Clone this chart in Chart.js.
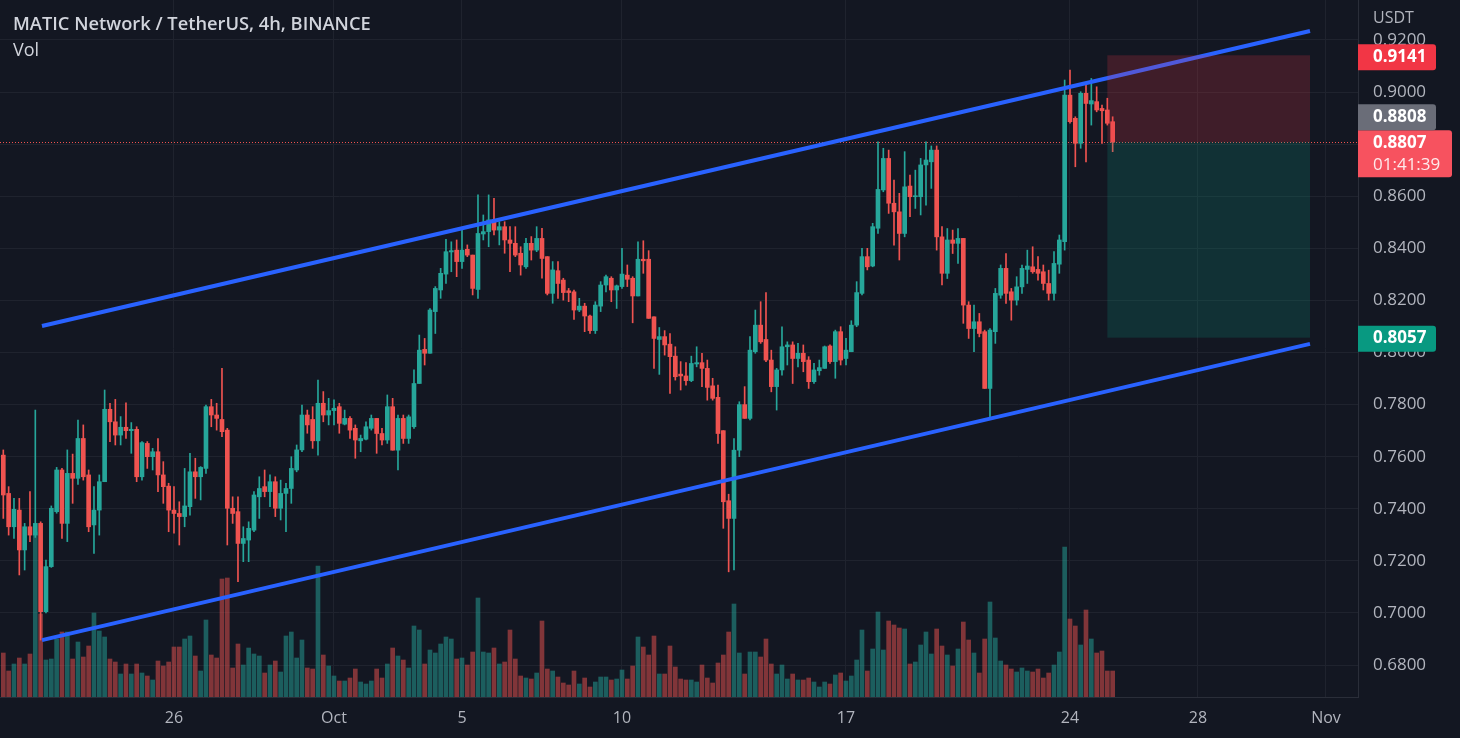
<!DOCTYPE html>
<html>
<head>
<meta charset="utf-8">
<title>MATIC Network / TetherUS, 4h</title>
<script src="https://cdn.jsdelivr.net/npm/chart.js@4.4.1/dist/chart.umd.min.js"></script>
<style>
  html, body { margin: 0; padding: 0; background: #131722; overflow: hidden; }
  #wrap { position: relative; width: 1460px; height: 738px; }
</style>
</head>
<body>
<div id="wrap"><canvas id="mychart" width="1460" height="738"></canvas></div>
<script>
// 4h candles, first bar = Sep 20 16:00, one index per bar
const opens = [
  .7606,.7459,.7331,.7395,.7242,.7331,.7299,.7344,.7005,.7178,
  .7389,.7549,.7344,.7536,.7517,.7670,.7530,.7338,.7395,.7504,
  .7782,.7734,.7683,.7713,.7700,.7705,.7523,.7651,.7600,.7619,
  .7530,.7487,.7395,.7382,.7370,.7408,.7542,.7523,.7555,.7792,
  .7760,.7743,.7702,.7402,.7389,.7267,.7280,.7318,.7446,.7485,
  .7466,.7504,.7402,.7459,.7478,.7549,.7626,.7760,.7743,.7661,
  .7805,.7760,.7777,.7792,.7725,.7747,.7709,.7661,.7667,.7709,
  .7747,.7689,.7664,.7792,.7625,.7747,.7670,.7715,.7881,.8012,
  .7997,.8157,.8240,.8301,.8386,.8393,.8349,.8396,.8374,.8242,
  .8455,.8464,.8509,.8470,.8483,.8432,.8419,.8381,.8329,.8419,
  .8393,.8438,.8368,.8227,.8314,.8278,.8237,.8233,.8163,.8178,
  .8140,.8084,.8178,.8259,.8285,.8240,.8253,.8297,.8285,.8217,
  .8358,.8358,.8137,.8050,.8061,.8032,.7986,.7917,.7910,.7892,
  .7956,.7961,.7939,.7872,.7828,.7700,.7431,.7363,.7625,.7800,
  .7747,.8003,.8105,.8050,.7971,.7869,.7933,.8022,.8029,.7977,
  .7997,.7971,.7888,.7930,.7939,.8025,.7965,.8080,.7977,.8003,
  .8105,.8227,.8368,.8332,.8477,.8624,.8745,.8573,.8540,.8457,
  .8639,.8598,.8598,.8720,.8732,.8777,.8444,.8304,.8432,.8419,
  .8438,.8182,.8092,.8118,.8080,.7862,.8080,.8220,.8323,.8233,
  .8201,.8252,.8319,.8329,.8319,.8310,.8265,.8227,.8339,.8425,
  .8988,.8899,.8803,.8995,.8954,.8963,.8937,.8931,.8886
];
const highs = [
  .7626,.7485,.7440,.7440,.7344,.7466,.7779,.7350,.7203,.7411,
  .7559,.7555,.7626,.7610,.7741,.7722,.7549,.7485,.7530,.7856,
  .7805,.7820,.7754,.7807,.7731,.7715,.7658,.7658,.7632,.7670,
  .7581,.7498,.7485,.7427,.7555,.7613,.7594,.7562,.7798,.7820,
  .7805,.7939,.7709,.7446,.7446,.7331,.7350,.7466,.7523,.7549,
  .7530,.7523,.7510,.7498,.7600,.7645,.7798,.7779,.7792,.7894,
  .7850,.7824,.7818,.7805,.7779,.7754,.7722,.7683,.7734,.7760,
  .7747,.7709,.7837,.7824,.7760,.7760,.7760,.7933,.8067,.8054,
  .8169,.8253,.8323,.8434,.8425,.8432,.8477,.8413,.8374,.8605,
  .8528,.8605,.8592,.8502,.8502,.8483,.8483,.8406,.8438,.8445,
  .8483,.8477,.8368,.8349,.8349,.8285,.8246,.8240,.8208,.8189,
  .8144,.8195,.8272,.8297,.8291,.8259,.8400,.8336,.8291,.8425,
  .8429,.8391,.8137,.8096,.8084,.8073,.8022,.7965,.7961,.7986,
  .8022,.7997,.7971,.7901,.7875,.7700,.7456,.7670,.7811,.7869,
  .8061,.8163,.8195,.8230,.8009,.7939,.8099,.8041,.8041,.8035,
  .8029,.7984,.7958,.7971,.8025,.8029,.8086,.8099,.8054,.8122,
  .8272,.8400,.8400,.8496,.8809,.8784,.8777,.8662,.8611,.8771,
  .8681,.8700,.8745,.8809,.8793,.8793,.8483,.8476,.8470,.8476,
  .8438,.8195,.8182,.8150,.8086,.8092,.8246,.8336,.8380,.8246,
  .8291,.8336,.8393,.8406,.8368,.8336,.8316,.8387,.8451,.9046,
  .9084,.8905,.9001,.9027,.9052,.9020,.8950,.8976,.8905
];
const lows = [
  .7363,.7299,.7286,.7146,.7165,.7274,.7290,.6896,.7000,.7175,
  .7383,.7286,.7274,.7421,.7494,.7510,.7312,.7229,.7299,.7504,
  .7658,.7645,.7645,.7670,.7613,.7504,.7510,.7555,.7549,.7466,
  .7421,.7312,.7306,.7261,.7331,.7376,.7440,.7434,.7536,.7715,
  .7702,.7677,.7261,.7344,.7120,.7197,.7197,.7312,.7363,.7446,
  .7408,.7370,.7357,.7312,.7421,.7542,.7619,.7690,.7632,.7606,
  .7734,.7722,.7722,.7690,.7722,.7670,.7594,.7619,.7664,.7702,
  .7613,.7645,.7651,.7625,.7549,.7651,.7651,.7709,.7881,.7952,
  .7997,.8073,.8208,.8265,.8310,.8291,.8323,.8368,.8221,.8208,
  .8432,.8406,.8451,.8413,.8381,.8310,.8368,.8297,.8323,.8355,
  .8387,.8285,.8221,.8189,.8208,.8201,.8195,.8127,.8157,.8080,
  .8073,.8073,.8157,.8233,.8195,.8169,.8246,.8253,.8114,.8217,
  .8304,.8131,.7939,.7916,.7990,.7843,.7894,.7856,.7875,.7888,
  .7945,.7869,.7817,.7817,.7651,.7325,.7158,.7165,.7600,.7747,
  .7741,.7997,.8035,.7965,.7849,.7779,.7913,.7952,.7881,.7945,
  .7926,.7862,.7881,.7913,.7939,.7958,.7901,.7952,.7952,.8003,
  .8099,.8221,.8317,.8329,.8457,.8617,.8534,.8412,.8355,.8444,
  .8521,.8553,.8528,.8566,.8630,.8393,.8259,.8284,.8380,.8342,
  .8112,.8054,.8003,.8060,.7862,.7747,.8035,.8208,.8188,.8124,
  .8182,.8227,.8265,.8304,.8278,.8240,.8201,.8201,.8304,.8393,
  .8880,.8713,.8784,.8732,.8873,.8924,.8803,.8873,.8771
];
const closes = [
  .7453,.7331,.7398,.7242,.7331,.7299,.7344,.7005,.7178,.7402,
  .7549,.7344,.7536,.7517,.7670,.7523,.7331,.7395,.7504,.7782,
  .7734,.7683,.7713,.7700,.7705,.7523,.7654,.7600,.7619,.7530,
  .7485,.7395,.7382,.7370,.7411,.7542,.7523,.7559,.7792,.7760,
  .7747,.7696,.7402,.7382,.7267,.7286,.7325,.7453,.7478,.7466,
  .7504,.7402,.7459,.7478,.7555,.7626,.7760,.7722,.7661,.7805,
  .7760,.7777,.7786,.7728,.7747,.7702,.7664,.7670,.7715,.7747,
  .7689,.7664,.7792,.7625,.7747,.7670,.7753,.7881,.8009,.7997,
  .8163,.8246,.8304,.8387,.8391,.8349,.8393,.8374,.8246,.8457,
  .8464,.8509,.8470,.8483,.8432,.8419,.8374,.8336,.8419,.8393,
  .8438,.8361,.8227,.8317,.8265,.8230,.8230,.8163,.8178,.8140,
  .8084,.8182,.8259,.8291,.8240,.8256,.8301,.8281,.8217,.8358,
  .8352,.8131,.8054,.8061,.8029,.7984,.7907,.7910,.7892,.7958,
  .7961,.7939,.7866,.7824,.7689,.7427,.7363,.7625,.7800,.7747,
  .8009,.8105,.8041,.7971,.7869,.7933,.8022,.8029,.7977,.7997,
  .7965,.7888,.7933,.7942,.8022,.7965,.8080,.7971,.8009,.8105,
  .8230,.8368,.8329,.8483,.8626,.8745,.8573,.8540,.8457,.8636,
  .8598,.8601,.8720,.8739,.8777,.8444,.8304,.8432,.8419,.8438,
  .8182,.8092,.8118,.8073,.7862,.8086,.8227,.8323,.8227,.8201,
  .8252,.8323,.8332,.8310,.8304,.8265,.8227,.8342,.8432,.8988,
  .8886,.8803,.8995,.8956,.8967,.8931,.8928,.8880,.8807
];
// volume, millions of MATIC
const volumes = [
  8.8,5.2,6.6,7.8,6.6,8.6,33,16.6,7.4,7.6,
  11.6,13,13,7.6,11,8,10.2,16.8,13.2,12,
  7.6,7,4.6,6.6,4.6,6.6,4.8,4.2,3.4,7.2,
  6.2,7,10,10,11.6,12.2,8.2,5.2,15.4,8.4,
  7.8,23.6,23.8,5.8,10.6,6.4,9.8,8.6,8.2,4.8,
  6.4,7.2,5,12.2,13,7.8,11.4,5.8,5.6,26.2,
  8.4,6.2,4.2,3.2,3.2,3.8,5.6,3,2.6,3.2,
  5.6,3.8,6.6,9.8,8.2,7.4,5.8,14.2,13.4,6.6,
  9.4,8.8,10.6,12,11.6,7.6,7.8,6.4,9,19.8,
  9,8.8,9.8,6.6,7,13.4,7.6,4.2,3.8,3.6,
  4.8,15.2,5.6,5.2,4,2.8,2.4,5.2,2.6,3.8,
  2,3,4,4,3.4,3.6,5.4,3.6,6.2,12,
  10,8.4,12.2,4.6,4.6,10.2,6,3.6,3.4,3.4,
  3,6.4,3.8,2.8,6.8,8.4,13,18.6,8.8,4.6,
  9,9,8,11.6,6.6,4.6,6.4,3.6,4.6,3.4,
  3.4,3.8,3,2,3,2.6,4.4,4.8,3.2,4.2,
  7.4,13.4,5.2,9.6,17,9.4,15.2,14.4,13.8,13.6,
  6.6,7,10.4,13,8.6,13.6,10.2,8.4,6.2,9.6,
  15,11.4,8.8,4.8,11.6,19,11.8,7.2,6.4,5.6,
  5,5.8,5.2,5,5.6,3.8,4.8,6.4,9,30,
  15.6,14.2,10.4,17.4,11.6,8.8,9.2,5.2,5.2
];

// time axis: bar index of each date label
const tickIdx = [32, 62, 86, 116, 158, 200, 224, 248];
const tickLabels = ['26', 'Oct', '5', '10', '17', '24', '28', 'Nov'];

// drawn channel (bar index / price)
const channelX = [7.25, 245];
const channelUpper = [0.8102, 0.9234];
const channelLower = [0.6896, 0.8033];

// short position tool
const positionX = [207, 245];
const stopPrice = 0.9141;
const entryPrice = 0.8808;
const targetPrice = 0.8057;
const countdown = '01:41:39';

const upColor = '#26a69a';
const downColor = '#ef5350';
const gridColor = '#1f232e';
const textColor = '#b2b5be';

Chart.defaults.font.family = '"Open Sans", sans-serif';

const bars = closes.map((c, i) => i);
const isUp = bars.map(i => closes[i] >= opens[i]);
const lastPrice = closes[closes.length - 1];

const bodyData = bars.map(i => ({x: i, y: [opens[i], closes[i]]}));
const wickData = bars.map(i => ({x: i, y: [lows[i], highs[i]]}));
const volData = bars.map(i => ({x: i, y: volumes[i]}));

const drawTag = (ctx, x, top, w, h, bg) => {
    ctx.fillStyle = bg;
    ctx.beginPath();
    ctx.roundRect(x, top, w, h, [0, 3, 3, 0]);
    ctx.fill();
};

/**
 * Extra TradingView bits: last price line, position boxes, price tags, title.
 */
const tvOverlay = {
    id: 'tvOverlay',
    beforeDatasetsDraw(chart) {
        const {ctx, chartArea, scales} = chart;
        const py = Math.round(scales.y.getPixelForValue(lastPrice)) + 0.5;
        ctx.save();
        ctx.strokeStyle = downColor;
        ctx.lineWidth = 1;
        ctx.setLineDash([1, 2]);
        ctx.beginPath();
        ctx.moveTo(chartArea.left, py);
        ctx.lineTo(chartArea.right, py);
        ctx.stroke();
        ctx.restore();
    },
    afterDatasetsDraw(chart) {
        const {ctx, scales} = chart;
        const x1 = scales.x.getPixelForValue(positionX[0]);
        const x2 = scales.x.getPixelForValue(positionX[1]);
        const yStop = scales.y.getPixelForValue(stopPrice);
        const yEntry = scales.y.getPixelForValue(entryPrice);
        const yTarget = scales.y.getPixelForValue(targetPrice);
        ctx.save();
        ctx.fillStyle = 'rgba(242, 54, 69, 0.2)';
        ctx.fillRect(x1, yStop, x2 - x1, yEntry - yStop);
        ctx.fillStyle = 'rgba(8, 153, 129, 0.2)';
        ctx.fillRect(x1, yEntry, x2 - x1, yTarget - yEntry);
        ctx.restore();
    },
    afterDraw(chart) {
        const {ctx, scales} = chart;
        const y = scales.y;
        const x0 = y.left;
        const tx = x0 + 15;
        ctx.save();
        ctx.textBaseline = 'middle';
        ctx.textAlign = 'left';

        // currency
        ctx.fillStyle = textColor;
        ctx.font = '16px "Open Sans"';
        ctx.fillText('USDT', tx, 18);

        // stop tag
        let py = y.getPixelForValue(stopPrice);
        drawTag(ctx, x0, py - 11, 78, 26, '#f23645');
        ctx.fillStyle = '#ffffff';
        ctx.font = 'bold 17px "Open Sans"';
        ctx.fillText(stopPrice.toFixed(4), tx, py + 2);

        // last price tag with countdown
        py = y.getPixelForValue(lastPrice);
        const lastTop = py - 12;
        drawTag(ctx, x0, lastTop, 94, 47, '#f7525f');
        ctx.fillStyle = '#ffffff';
        ctx.fillText(lastPrice.toFixed(4), tx, py + 1);
        ctx.font = '17px "Open Sans"';
        ctx.fillStyle = 'rgba(255,255,255,0.88)';
        ctx.fillText(countdown, tx, py + 23);

        // entry tag sits right above it
        drawTag(ctx, x0, lastTop - 26, 78, 26, '#6a6d78');
        ctx.fillStyle = '#ffffff';
        ctx.font = 'bold 17px "Open Sans"';
        ctx.fillText(entryPrice.toFixed(4), tx, lastTop - 13);

        // target tag
        py = y.getPixelForValue(targetPrice);
        drawTag(ctx, x0, py - 12, 78, 26, '#089981');
        ctx.fillStyle = '#ffffff';
        ctx.fillText(targetPrice.toFixed(4), tx, py + 1);

        // title
        ctx.fillStyle = '#d1d4dc';
        ctx.font = '600 18.3px "Open Sans"';
        ctx.fillText('MATIC Network / TetherUS, 4h, BINANCE', 13, 25);
        ctx.font = '18px "Open Sans"';
        ctx.fillText('Vol', 13, 51);
        ctx.restore();
    }
};

const ctx = document.getElementById('mychart').getContext('2d');

let mychart = new Chart(ctx, {
    type: 'bar',
    data: {
        datasets: [
            {
                type: 'line',
                data: channelX.map((x, k) => ({x: x, y: channelUpper[k]})),
                borderColor: '#2962ff',
                borderWidth: 4,
                pointRadius: 0,
                order: 1
            },
            {
                type: 'line',
                data: channelX.map((x, k) => ({x: x, y: channelLower[k]})),
                borderColor: '#2962ff',
                borderWidth: 4,
                pointRadius: 0,
                order: 1
            },
            {
                data: bodyData,
                backgroundColor: bars.map(i => isUp[i] ? upColor : downColor),
                barThickness: 4,
                minBarLength: 1,
                grouped: false,
                order: 2
            },
            {
                data: wickData,
                backgroundColor: bars.map(i => isUp[i] ? upColor : downColor),
                barThickness: 1,
                grouped: false,
                order: 3
            },
            {
                data: volData,
                yAxisID: 'yv',
                backgroundColor: bars.map(i => isUp[i] ? 'rgba(38,166,154,0.5)' : 'rgba(239,83,80,0.5)'),
                barThickness: 4,
                grouped: false,
                order: 4
            }
        ]
    },
    options: {
        responsive: false,
        animation: false,
        events: [],
        layout: { padding: 0 },
        plugins: {
            legend: { display: false },
            tooltip: { enabled: false }
        },
        scales: {
            x: {
                type: 'linear',
                min: -0.62,
                max: 254,
                offset: false,
                grid: { color: gridColor, drawTicks: false, offset: false },
                border: { color: '#2a2e39' },
                ticks: {
                    color: textColor,
                    font: { size: 16 },
                    padding: 12,
                    autoSkip: false,
                    maxRotation: 0,
                    callback: (v, idx) => tickLabels[idx]
                },
                afterBuildTicks: (s) => { s.ticks = tickIdx.map(v => ({value: v})); },
                afterFit: (s) => { s.height = 41; s.paddingLeft = 0; s.paddingRight = 0; }
            },
            y: {
                position: 'right',
                min: 0.66775,
                max: 0.93532,
                grid: { color: gridColor, drawTicks: false },
                border: { color: '#2a2e39' },
                ticks: {
                    stepSize: 0.02,
                    includeBounds: false,
                    padding: 15,
                    color: textColor,
                    font: { size: 17 },
                    callback: (v) => v.toFixed(4)
                },
                afterFit: (s) => { s.width = 102; s.paddingTop = 0; s.paddingBottom = 0; }
            },
            yv: {
                display: false,
                min: 0,
                max: 139.4
            }
        }
    },
    plugins: [tvOverlay]
});
</script>
</body>
</html>
